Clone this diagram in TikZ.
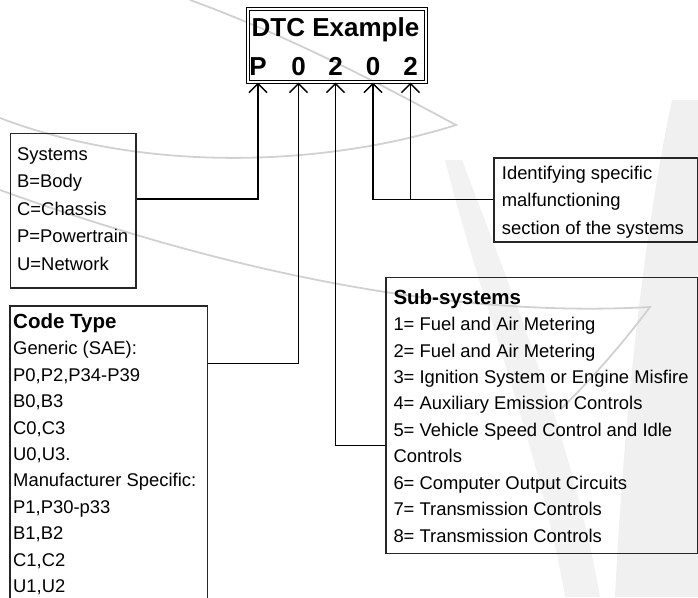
\documentclass[tikz,border=0pt]{standalone}
\usepackage{fontspec}
\setmainfont{Liberation Sans}
\usetikzlibrary{arrows.meta}

\begin{document}
\begin{tikzpicture}[x=1pt,y=-1pt,
  >={Straight Barb[length=9pt,width=18pt]},
  frame/.style={draw=black!85,line width=1.6pt,anchor=north west,inner sep=0pt},
  body/.style={anchor=north west,inner sep=0pt,align=left,font=\fontsize{18.4}{27.5}\selectfont},
  wire/.style={line width=1.5pt},
  swoosh/.style={draw=black!18,line width=1.8pt}]
\useasboundingbox (0,0) rectangle (698,597);
\clip (0,0) rectangle (698,597);
% watermark
\fill[black!6] (672,100) .. controls (640,250) and (622,450) .. (615,597) -- (698,597) -- (698,100) -- cycle;
\fill[black!5] (445,160) .. controls (480,300) and (540,450) .. (565,597) -- (600,597)
  .. controls (575,450) and (515,300) .. (462,160) -- cycle;
\draw[swoosh] (190,0) .. controls (300,40) and (400,95) .. (456,125)
  .. controls (330,165) and (150,175) .. (0,118);
\draw[swoosh] (0,190) .. controls (180,255) and (420,320) .. (650,307)
  .. controls (610,360) and (580,390) .. (560,410);
% code box
\node[draw,double,double distance=2.2pt,line width=0.9pt,anchor=north west,inner sep=0pt,
  minimum width=177.9pt,minimum height=72.9pt] (dtc) at (247.8,8.8) {};
\node[anchor=base west,inner sep=0pt,font=\fontsize{26}{28}\selectfont\bfseries] (title) at (251.5,36.7) {DTC Example};
\foreach \c/\x [count=\i] in {P/258,0/298.5,2/335.5,0/373,2/410.5}
  \node[anchor=base,inner sep=0pt,font=\fontsize{26}{28}\selectfont\bfseries] (d\i) at (\x,75) {\c};
% boxes
\node[frame,minimum width=125.8pt,minimum height=154.5pt] (sys) at (9.5,132.5) {};
\node[body] (systxt) at (17,147.2) {Systems\\B=Body\\C=Chassis\\P=Powertrain\\U=Network};
\node[frame,minimum width=197.6pt,minimum height=320pt] (ct) at (9,305) {};
\node[body,font=\fontsize{18.4}{26.4}\selectfont] (cttxt) at (13,313.5)
  {{\bfseries\fontsize{20.5}{26.4}\selectfont Code Type}\\Generic (SAE):\\P0,P2,P34-P39\\B0,B3\\C0,C3\\U0,U3.\\
   Manufacturer Specific:\\P1,P30-p33\\B1,B2\\C1,C2\\U1,U2};
\node[frame,minimum width=204pt,minimum height=84pt] (id) at (493,157) {};
\node[body] (idtxt) at (501.7,165.9) {Identifying specific\\malfunctioning\\section of the systems};
\node[frame,minimum width=312pt,minimum height=276pt] (sub) at (385,276.5) {};
\node[body,font=\fontsize{18.4}{26.48}\selectfont] (subtxt) at (393.3,289)
  {{\bfseries\fontsize{20.5}{26.48}\selectfont Sub-systems}\\1= Fuel and Air Metering\\2= Fuel and Air Metering\\
   3= Ignition System or Engine Misfire\\4= Auxiliary Emission Controls\\5= Vehicle Speed Control and Idle\\
   Controls\\6= Computer Output Circuits\\7= Transmission Controls\\8= Transmission Controls};
% connectors
\draw[wire,->] (sys.east |- 0,199) -| (d1 |- dtc.south);
\draw[wire,->] (ct.east |- 0,363.7) -| (d2 |- dtc.south);
\draw[wire,->] (sub.west |- 0,445.7) -| (d3 |- dtc.south);
\draw[wire,->] (id.west |- 0,199.5) -| (d4 |- dtc.south);
\draw[wire,->] (d5 |- 0,199.5) -- (d5 |- dtc.south);
\end{tikzpicture}
\end{document}
